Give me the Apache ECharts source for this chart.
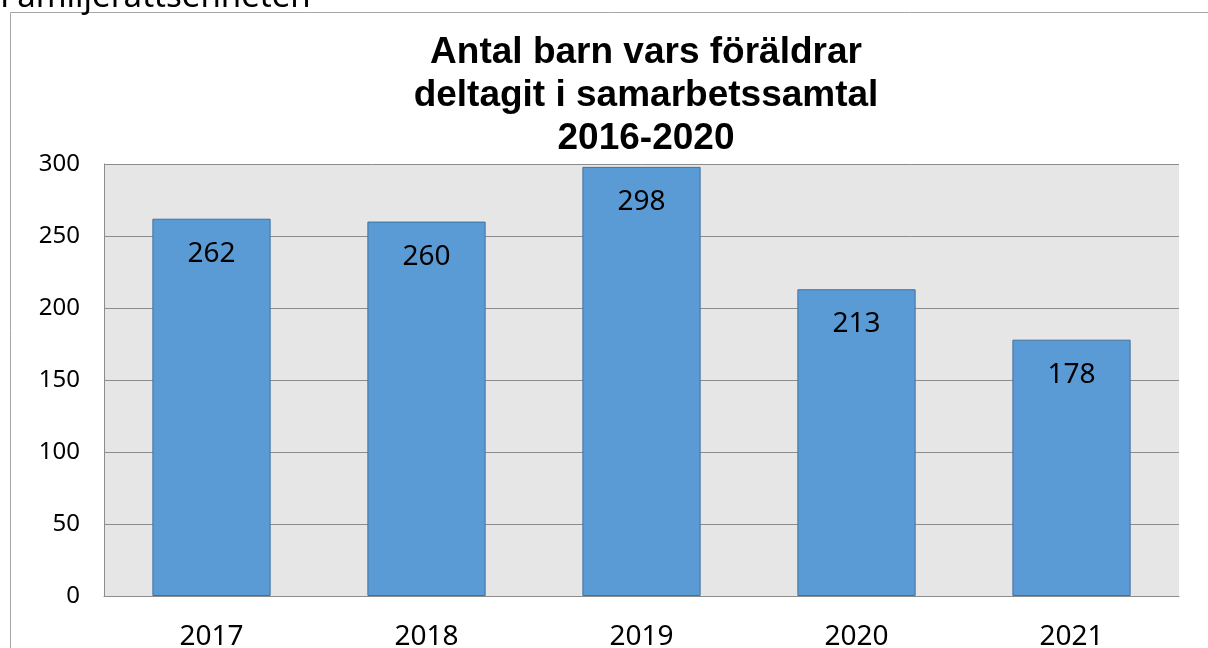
<!DOCTYPE html>
<html><head><meta charset="utf-8">
<script src="https://cdn.jsdelivr.net/npm/echarts@6/dist/echarts.min.js"></script>
<style>html,body{margin:0;padding:0;background:#fff}#c{width:1208px;height:648px}</style>
</head><body><div id="c"></div>
<script>
const categories = ['2017','2018','2019','2020','2021'];
const values = [262, 260, 298, 213, 178];
const titleLines = ['Antal barn vars föräldrar','deltagit i samarbetssamtal','2016-2020'];
const headerText = 'Familjerättsenheten';

const chart = echarts.init(document.getElementById('c'));
chart.setOption({
  animation: false,
  backgroundColor: '#fff',
  title: {
    text: titleLines.join('\n'),
    left: 641, top: 26, textAlign: 'center',
    textStyle: {fontFamily: 'Liberation Sans, Arial', fontWeight: 'bold', fontSize: 37, lineHeight: 43, color: '#000'}
  },
  graphic: [
    {type:'rect', shape:{x:10.5,y:12.5,width:1400,height:800}, style:{fill:'none', stroke:'#a6a6a6', lineWidth:1}, silent:true, z:-10},
    {type:'text', left:0, top:-19, style:{text: headerText, font:'33px "Noto Sans"', fill:'#000'}}
  ],
  grid: {left:104, right:29, top:164, bottom:52, show:true, backgroundColor:'#e6e6e6', borderColor:'#8c8c8c', borderWidth:0, containLabel:false, outerBoundsMode:'none'},
  xAxis: {
    type:'category', data: categories,
    axisLine:{show:true, lineStyle:{color:'#8c8c8c', width:1}},
    axisTick:{show:false},
    axisLabel:{fontFamily:'Noto Sans', fontSize:28, color:'#000', margin:27}
  },
  yAxis: {
    type:'value', min:0, max:300, interval:50,
    axisLine:{show:true, lineStyle:{color:'#8c8c8c'}},
    axisTick:{show:false},
    splitLine:{show:true, lineStyle:{color:'#8c8c8c', width:1}},
    axisLabel:{fontFamily:'Noto Sans', fontSize:24, color:'#000', margin:24}
  },
  series: [{
    type:'bar', data: values, barWidth:'55%',
    itemStyle:{color:'#5b9bd5', borderColor:'#41719c', borderWidth:1},
    label:{show:true, position:'insideTop', distance:21, fontFamily:'Noto Sans', fontSize:28, color:'#000'}
  }]
});
</script></body></html>
